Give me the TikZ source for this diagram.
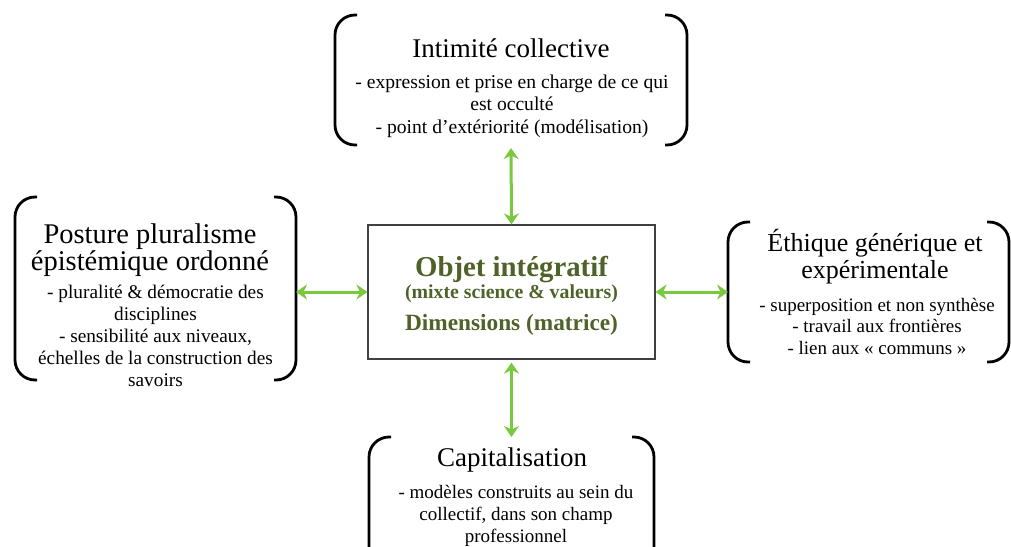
\documentclass[tikz,border=0pt]{standalone}
\usepackage{fontspec}
\setmainfont{Liberation Serif}
\usetikzlibrary{arrows.meta}

\definecolor{vertlien}{RGB}{122,200,62}
\definecolor{olive}{RGB}{79,98,40}

% crochets autour d'un cadre
\newcommand{\crochets}[1]{%
  \draw [crochet] ([xshift=22pt]#1.north west) -- (#1.north west) -- (#1.south west) -- ([xshift=22pt]#1.south west);
  \draw [crochet] ([xshift=-22pt]#1.north east) -- (#1.north east) -- (#1.south east) -- ([xshift=-22pt]#1.south east);
}

\begin{document}
\begin{tikzpicture}[x=1pt,y=-1pt]
	\tikzstyle{cadre} = [inner sep=0, outer sep=0]
	\tikzstyle{crochet} = [line width=2.8pt, rounded corners=20pt]
	\tikzstyle{titre} = [anchor=base, align=center, inner sep=0, font=\fontsize{27}{26}\selectfont]
	\tikzstyle{corps} = [anchor=base, align=center, inner sep=0, font=\fontsize{19}{22.5}\selectfont]
	\tikzstyle{gras} = [anchor=base, inner sep=0, text=olive]
	\tikzstyle{lien} = [line width=3pt, vertlien, {Stealth[length=11pt,width=15pt,inset=3.5pt]}-{Stealth[length=11pt,width=15pt,inset=3.5pt]}]
	
	\useasboundingbox (0,0) rectangle (1011,546);
	\clip (0,0) rectangle (1011,546);
	
	% cadres
	\node [cadre, minimum width=352pt, minimum height=130pt] (intim) at (511,80) {};
	\node [cadre, minimum width=281pt, minimum height=183pt] (posture) at (155.5,288.5) {};
	\node [cadre, minimum width=281pt, minimum height=140pt] (ethique) at (868.5,292) {};
	\node [cadre, minimum width=285pt, minimum height=133pt] (capital) at (511.5,503.5) {};
	\node [draw=black!75, line width=1.1pt, minimum width=287pt, minimum height=134pt] (objet) at (511.5,292) {};
	
	\crochets{intim}
	\crochets{posture}
	\crochets{ethique}
	\crochets{capital}
	
	% textes (base = derniere ligne)
	\node [titre] (intim-titre) at (511,57) {Intimité collective};
	\node [corps, font=\fontsize{19.6}{22.5}\selectfont] (intim-texte) at (512,133) {- expression et prise en charge de ce qui\\est occulté\\- point d’extériorité (modélisation)};
	
	\node [titre, font=\fontsize{28.5}{27}\selectfont] (posture-titre) at (150,270) {Posture pluralisme\\épistémique ordonné};
	\node [corps, font=\fontsize{19.3}{22}\selectfont] (posture-texte) at (155.5,386) {- pluralité \& démocratie des\\disciplines\\- sensibilité aux niveaux,\\échelles de la construction des\\savoirs};
	
	\node [titre, font=\fontsize{26}{26.5}\selectfont] (ethique-titre) at (875,278) {Éthique générique et\\expérimentale};
	\node [corps, font=\fontsize{19}{21.5}\selectfont] (ethique-texte) at (877,354) {- superposition et non synthèse\\- travail aux frontières\\- lien aux «~communs~»};
	
	\node [titre] (capital-titre) at (512,466) {Capitalisation};
	\node [corps, font=\fontsize{19}{22}\selectfont] (capital-texte) at (516,542) {- modèles construits au sein du\\collectif, dans son champ\\professionnel};
	
	\node [gras, font=\bfseries\fontsize{28.8}{30}\selectfont] (objet-titre) at (511.5,276) {Objet intégratif};
	\node [gras, font=\bfseries\fontsize{19.8}{22}\selectfont] (objet-mixte) at (511.5,298) {(mixte science \& valeurs)};
	\node [gras, font=\bfseries\fontsize{23.3}{25}\selectfont] (objet-dim) at (511.5,330) {Dimensions (matrice)};
	
	% liens
	\draw [lien, shorten <=3pt] (intim.south) -- (objet.north);
	\draw [lien] (objet.west -| posture.east) -- (objet.west);
	\draw [lien] (objet.east) -- (objet.east -| ethique.west);
	\draw [lien, shorten <=3pt] (objet.south) -- (capital.north);
	
\end{tikzpicture}
\end{document}
